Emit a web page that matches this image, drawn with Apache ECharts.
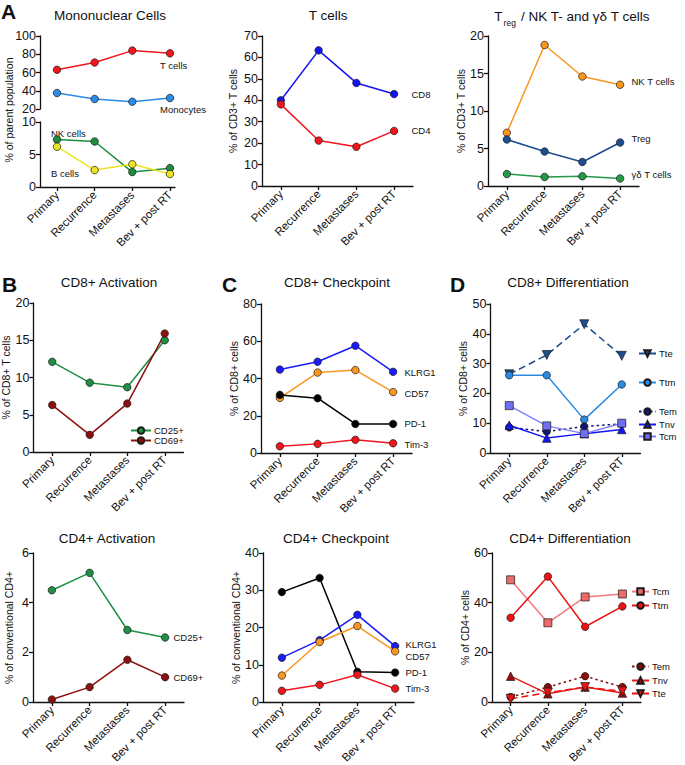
<!DOCTYPE html>
<html><head><meta charset="utf-8">
<script src="https://cdn.jsdelivr.net/npm/echarts@6/dist/echarts.min.js"></script>
<style>html,body{margin:0;padding:0;background:#fff}#c{width:685px;height:765px}</style>
</head><body><div id="c"></div>
<script>
const categories = ['Primary', 'Recurrence', 'Metastases', 'Bev + post RT'];
// A: Mononuclear cells (% of parent population), broken y axis
const monoUpperTicks = [20, 40, 60, 80, 100];
const monoLowerTicks = [0, 5, 10];
const monoTCells = [63, 71, 84, 81];
const monoMonocytes = [37.5, 31, 28, 32];
const monoNK = [7.3, 7.0, 2.3, 2.9];
const monoB = [6.2, 2.6, 3.5, 2.0];
// T cells (% of CD3+ T cells)
const tCD8 = [40.0, 63.3, 48.1, 42.9];
const tCD4 = [38.1, 21.2, 18.3, 25.7];
// Treg / NK T / gamma-delta T cells (% of CD3+ T cells)
const nkT = [7.1, 18.8, 14.6, 13.5];
const treg = [6.2, 4.6, 3.2, 5.8];
const gdT = [1.6, 1.2, 1.3, 1.0];
// B: CD8+ activation
const cd8CD25 = [12.1, 9.3, 8.7, 15.0];
const cd8CD69 = [6.3, 2.3, 6.5, 15.9];
// C: CD8+ checkpoint
const cd8KLRG1 = [44.8, 49.0, 57.6, 43.6];
const cd8CD57 = [29.6, 43.2, 44.5, 32.7];
const cd8PD1 = [31.2, 29.4, 15.6, 15.6];
const cd8Tim3 = [3.6, 4.9, 7.1, 5.2];
// D: CD8+ differentiation
const cd8Tte = [26.4, 32.9, 43.2, 32.6];
const cd8Ttm = [26.1, 26.1, 11.2, 23.0];
const cd8Tem = [8.6, 7.2, 8.9, 9.8];
const cd8Tnv = [9.3, 5.0, 6.5, 7.9];
const cd8Tcm = [15.9, 9.1, 6.5, 10.0];
// CD4+ activation
const cd4CD25 = [4.5, 5.2, 2.9, 2.6];
const cd4CD69 = [0.1, 0.6, 1.7, 1.0];
// CD4+ checkpoint
const cd4PD1 = [29.5, 33.3, 8.1, 7.9];
const cd4KLRG1 = [11.9, 16.6, 23.4, 15.0];
const cd4CD57 = [7.1, 16.1, 20.4, 13.6];
const cd4Tim3 = [3.0, 4.6, 7.3, 3.6];
// CD4+ differentiation
const cd4Tcm = [49.2, 31.9, 42.3, 43.5];
const cd4Ttm = [33.9, 50.5, 30.3, 38.5];
const cd4Tem = [2.0, 6.0, 10.4, 6.0];
const cd4Tnv = [10.4, 3.3, 6.0, 3.6];
const cd4Tte = [1.3, 3.8, 6.0, 4.3];

const FONT = "'Liberation Sans', Arial, Helvetica, sans-serif";
const INK = '#111111';
const catIdx = categories.map((c, i) => i);

const grids = [
  {left: 40, top: 36, width: 135, height: 73},
  {left: 40, top: 122, width: 135, height: 65},
  {left: 262, top: 36, width: 151, height: 150},
  {left: 488, top: 36, width: 151, height: 150},
  {left: 33.5, top: 303, width: 150, height: 149},
  {left: 261, top: 304, width: 151, height: 149},
  {left: 490.5, top: 304, width: 150, height: 149},
  {left: 33, top: 553, width: 151, height: 149},
  {left: 263, top: 553, width: 151, height: 149},
  {left: 492, top: 553, width: 149, height: 149}
].map(g => Object.assign({outerBoundsMode: 'none', containLabel: false}, g));

function xa(gi, min, max, show) {
  return {
    type: 'value', gridIndex: gi, min: min, max: max, show: show !== false, position: 'bottom',
    axisLine: {show: true, onZero: false, lineStyle: {color: INK, width: 1.3}},
    axisTick: {show: true, customValues: catIdx, length: 4, lineStyle: {color: INK, width: 1.3}},
    axisLabel: {show: true, customValues: catIdx, rotate: 45, margin: 6, fontSize: 11.5, color: INK, fontFamily: FONT,
      hideOverlap: false, formatter: v => categories[Math.round(v)] || ''},
    splitLine: {show: false}
  };
}
function ya(gi, min, max, interval, name, gap, ticks) {
  const ax = {
    type: 'value', gridIndex: gi, min: min, max: max, interval: interval, position: 'left',
    name: name || '', nameLocation: 'middle', nameGap: gap || 0, nameRotate: 90,
    nameTextStyle: {fontSize: 10.5, color: INK, fontFamily: FONT},
    axisLine: {show: true, onZero: false, lineStyle: {color: INK, width: 1.3}},
    axisTick: {show: true, length: 4, lineStyle: {color: INK, width: 1.3}},
    axisLabel: {fontSize: 12.5, color: INK, margin: 4, fontFamily: FONT,
      showMinLabel: true, showMaxLabel: true, hideOverlap: false},
    splitLine: {show: false}
  };
  if (ticks) {
    ax.axisTick.customValues = ticks;
    ax.axisLabel.customValues = ticks;
  }
  return ax;
}
function mk(gi, id, data, o) {
  const size = o.size || 7.5;
  const s = {
    type: 'line', name: id, xAxisIndex: gi, yAxisIndex: gi,
    data: data.map((v, i) => [i, v]),
    symbol: o.symbol || 'circle', symbolSize: size, symbolRotate: o.rot || 0,
    lineStyle: {color: o.lineColor || o.color, width: 1.5, type: o.dash || 'solid'},
    itemStyle: {color: o.color, borderColor: o.border || '#1a1a1a', borderWidth: 0.7},
    emphasis: {disabled: true}, z: o.z || 2
  };
  if (o.label) {
    s.label = {show: true, position: 'right', distance: 0,
      formatter: p => p.dataIndex === data.length - 1 ? o.label : '',
      offset: [o.dx - size / 2, o.dy || 0], fontSize: 9.5, color: INK, fontFamily: FONT};
  }
  return s;
}
function lg(name, left, cy, w) {
  return {
    data: [name], left: left, top: cy - 5.5, itemWidth: w || 17, itemHeight: 8, itemGap: 0, padding: 0,
    selectedMode: false, orient: 'vertical',
    textStyle: {fontSize: 9.5, color: INK, fontFamily: FONT, padding: [0, 0, 0, -2]},
    formatter: n => n.split('|')[1]
  };
}
function txt(x, y, text, size, o) {
  o = o || {};
  return {type: 'text', x: x, y: y, rotation: o.rot || 0, silent: true,
    style: {text: text, fontSize: size, fontFamily: FONT, fill: INK, align: o.align || 'center',
      verticalAlign: 'middle', fontWeight: o.weight || 'normal', rich: o.rich}};
}

const RED = '#f2151b', BLUE = '#1414f0', ORANGE = '#f9961f', GREEN = '#1f8f45', DRED = '#8c1010';

const series = [
  // A
  mk(0, 'A|T cells', monoTCells, {color: RED}),
  mk(0, 'A|Monocytes', monoMonocytes, {color: '#2b8be6'}),
  mk(1, 'A|NK cells', monoNK, {color: '#1e8c3f'}),
  mk(1, 'A|B cells', monoB, {color: '#ece422'}),
  // T cells
  mk(2, 'T|CD8', tCD8, {color: BLUE, label: 'CD8', dx: 17}),
  mk(2, 'T|CD4', tCD4, {color: RED, label: 'CD4', dx: 17}),
  // Treg
  mk(3, 'R|NK T cells', nkT, {color: ORANGE, label: 'NK T cells', dx: 11, dy: -3}),
  mk(3, 'R|Treg', treg, {color: '#1b4f8f', label: 'Treg', dx: 11, dy: -4}),
  mk(3, 'R|gd', gdT, {color: '#24994a', label: 'γδ T cells', dx: 11, dy: -4}),
  // B
  mk(4, 'B|CD25+', cd8CD25, {color: GREEN}),
  mk(4, 'B|CD69+', cd8CD69, {color: DRED}),
  // C
  mk(5, 'C|KLRG1', cd8KLRG1, {color: '#1a1aff', label: 'KLRG1', dx: 11, dy: 1}),
  mk(5, 'C|CD57', cd8CD57, {color: ORANGE, label: 'CD57', dx: 11, dy: 1}),
  mk(5, 'C|PD-1', cd8PD1, {color: '#000000', label: 'PD-1', dx: 11}),
  mk(5, 'C|Tim-3', cd8Tim3, {color: RED, label: 'Tim-3', dx: 11, dy: 1}),
  // D
  mk(6, 'D8|Tte', cd8Tte, {color: '#1e4d8c', symbol: 'triangle', rot: 180, size: 9, dash: [7, 4]}),
  mk(6, 'D8|Ttm', cd8Ttm, {color: '#2a8ae2'}),
  mk(6, 'D8|Tem', cd8Tem, {color: '#16166e', dash: [2.5, 3]}),
  mk(6, 'D8|Tnv', cd8Tnv, {color: '#1414f5', symbol: 'triangle', size: 8.5}),
  mk(6, 'D8|Tcm', cd8Tcm, {color: '#6f6ff5', lineColor: '#8080ff', symbol: 'rect', size: 8}),
  // CD4 activation
  mk(7, 'E|CD25+', cd4CD25, {color: GREEN, label: 'CD25+', dx: 8}),
  mk(7, 'E|CD69+', cd4CD69, {color: DRED, label: 'CD69+', dx: 8}),
  // CD4 checkpoint
  mk(8, 'F|PD-1', cd4PD1, {color: '#000000', label: 'PD-1', dx: 10}),
  mk(8, 'F|KLRG1', cd4KLRG1, {color: '#1a1aff', label: 'KLRG1', dx: 10, dy: -2}),
  mk(8, 'F|CD57', cd4CD57, {color: ORANGE, label: 'CD57', dx: 10, dy: 5}),
  mk(8, 'F|Tim-3', cd4Tim3, {color: RED, label: 'Tim-3', dx: 10}),
  // CD4 differentiation
  mk(9, 'D4|Tcm', cd4Tcm, {color: '#ee6b6b', lineColor: '#f27a7a', symbol: 'rect', size: 8}),
  mk(9, 'D4|Ttm', cd4Ttm, {color: '#ee1111'}),
  mk(9, 'D4|Tem', cd4Tem, {color: '#8a0a0a', dash: [2.5, 3]}),
  mk(9, 'D4|Tnv', cd4Tnv, {color: '#9e0c0c', lineColor: '#e51c1c', symbol: 'triangle', size: 8.5}),
  mk(9, 'D4|Tte', cd4Tte, {color: '#e51515', lineColor: '#ee1111', symbol: 'triangle', rot: 180, size: 9, dash: [7, 4]})
];

const xAxes = [
  xa(0, -0.451, 3.133, false), xa(1, -0.451, 3.133),
  xa(2, -0.5, 3.5), xa(3, -0.5, 3.5), xa(4, -0.5, 3.5), xa(5, -0.5, 3.5),
  xa(6, -0.5, 3.5), xa(7, -0.5, 3.5), xa(8, -0.5, 3.5), xa(9, -0.5, 3.5)
];
const yAxes = [
  ya(0, 20, 100, 20, '', 0, monoUpperTicks), ya(1, 0, 10, 5, '', 0, monoLowerTicks),
  ya(2, 0, 70, 10, '% of CD3+ T cells', 24),
  ya(3, 0, 20, 5, '% of CD3+ T cells', 22),
  ya(4, 0, 20, 5, '% of CD8+ T cells', 20),
  ya(5, 0, 80, 20, '% of CD8+ cells', 22),
  ya(6, 0, 50, 10, '% of CD8+ cells', 22),
  ya(7, 0, 6, 2, '% of conventional CD4+', 19),
  ya(8, 0, 40, 10, '% of conventional CD4+', 21),
  ya(9, 0, 60, 20, '% of CD4+ cells', 20)
];

const legends = [
  lg('B|CD25+', 130, 431, 20), lg('B|CD69+', 130, 441, 20),
  lg('D8|Tte', 638, 354), lg('D8|Ttm', 638, 383), lg('D8|Tem', 638, 412), lg('D8|Tnv', 638, 425), lg('D8|Tcm', 638, 437),
  lg('D4|Tcm', 631, 592), lg('D4|Ttm', 631, 606), lg('D4|Tem', 631, 667), lg('D4|Tnv', 631, 681), lg('D4|Tte', 631, 694)
];

const graphics = [
  txt(1, 11, 'A', 21, {align: 'left', weight: 'bold'}),
  txt(2, 284, 'B', 21, {align: 'left', weight: 'bold'}),
  txt(222, 284, 'C', 21, {align: 'left', weight: 'bold'}),
  txt(450, 284, 'D', 21, {align: 'left', weight: 'bold'}),
  txt(110, 15, 'Mononuclear Cells', 13.5),
  txt(328, 15, 'T cells', 13.5),
  txt(572, 15, '{a|T}{s|reg}{a| / NK T- and γδ T cells}', 13.5,
    {rich: {a: {fontSize: 13.5, fontFamily: FONT, fill: INK, verticalAlign: 'bottom', lineHeight: 16},
            s: {fontSize: 8.5, fontFamily: FONT, fill: INK, verticalAlign: 'bottom', lineHeight: 16, padding: [0, 1, -4, 1]}}}),
  txt(109, 282, 'CD8+ Activation', 13.5),
  txt(337, 282, 'CD8+ Checkpoint', 13.5),
  txt(568, 282, 'CD8+ Differentiation', 13.5),
  txt(107, 538, 'CD4+ Activation', 13.5),
  txt(336, 538, 'CD4+ Checkpoint', 13.5),
  txt(570, 538, 'CD4+ Differentiation', 13.5),
  txt(9, 110, '% of parent population', 10.5, {rot: Math.PI / 2}),
  txt(160, 65, 'T cells', 9.5, {align: 'left'}),
  txt(160, 109, 'Monocytes', 9.5, {align: 'left'}),
  txt(51, 133, 'NK cells', 9.5, {align: 'left'}),
  txt(51, 173, 'B cells', 9.5, {align: 'left'})
];

const chart = echarts.init(document.getElementById('c'), null, {renderer: 'svg'});
chart.setOption({
  animation: false,
  backgroundColor: '#ffffff',
  textStyle: {fontFamily: FONT},
  grid: grids,
  xAxis: xAxes,
  yAxis: yAxes,
  legend: legends,
  series: series,
  graphic: graphics
});
</script></body></html>
